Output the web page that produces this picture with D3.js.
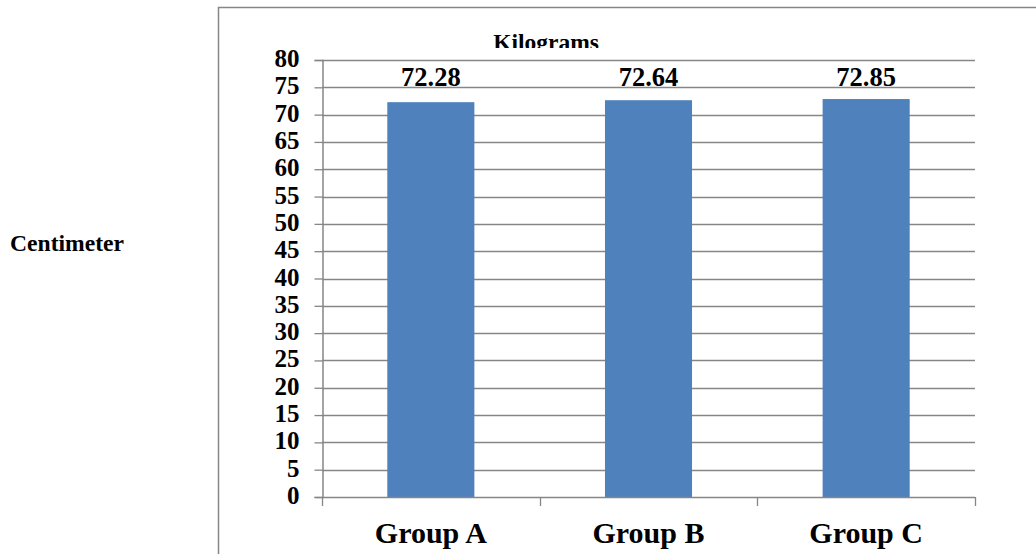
<!DOCTYPE html>
<html>
<head>
<meta charset="utf-8">
<script src="https://cdn.jsdelivr.net/npm/d3@7/dist/d3.min.js"></script>
<style>
  html, body { margin: 0; padding: 0; background: #fff; }
  svg { display: block; }
  text { font-family: "Liberation Serif", "Times New Roman", serif; font-weight: bold; fill: #000; }
</style>
</head>
<body>
<svg id="chart" width="1036" height="554"></svg>
<script>
// Mean weight per group
const categories = ["Group A", "Group B", "Group C"];
const values = [72.28, 72.64, 72.85];
const yTicks = d3.range(0, 81, 5);
const chartTitle = "Kilograms";
const sideLabel = "Centimeter";

const W = 1036, H = 554;
const plot = { left: 322, right: 975, top: 60, bottom: 497 };
const gridColor = "#868686";

const svg = d3.select("#chart");

// Outer chart frame (runs off the right and bottom edges)
svg.append("rect")
  .attr("x", 218.5).attr("y", 7.5)
  .attr("width", W).attr("height", H)
  .attr("fill", "#fff")
  .attr("stroke", gridColor).attr("stroke-width", 1.5);

const x = d3.scaleBand().domain(categories).range([plot.left, plot.right]).padding(0);
const y = d3.scaleLinear().domain([0, 80]).range([plot.bottom, plot.top]);

// Title, partly hidden under the plot area
svg.append("clipPath").attr("id", "titleClip")
  .append("rect").attr("x", 0).attr("y", 0).attr("width", W).attr("height", 48);
svg.append("text")
  .attr("clip-path", "url(#titleClip)")
  .attr("x", 546).attr("y", 50)
  .attr("text-anchor", "middle")
  .style("font-size", "23.5px")
  .text(chartTitle);

// Left-hand label
svg.append("text")
  .attr("x", 10).attr("y", 251)
  .style("font-size", "23.6px")
  .text(sideLabel);

// Horizontal gridlines
svg.append("g").selectAll("line")
  .data(yTicks.filter(d => d > 0))
  .join("line")
  .attr("x1", plot.left).attr("x2", plot.right)
  .attr("y1", d => Math.round(y(d)) + 0.5).attr("y2", d => Math.round(y(d)) + 0.5)
  .attr("stroke", gridColor).attr("stroke-width", 1.3);

// Y axis
const yAxis = svg.append("g")
  .attr("transform", `translate(${plot.left + 0.5},0)`)
  .call(d3.axisLeft(y).tickValues(yTicks).tickSize(8).tickPadding(15).tickFormat(d3.format("d")));
yAxis.select(".domain").attr("stroke", gridColor).attr("stroke-width", 1.5);
yAxis.selectAll(".tick line").attr("stroke", gridColor).attr("stroke-width", 1.3);
yAxis.selectAll(".tick text")
  .attr("dy", "0.26em")
  .style("font-family", "'Liberation Serif', 'Times New Roman', serif")
  .style("font-weight", "bold")
  .style("font-size", "25px")
  .attr("fill", "#000");

// Bars
const barW = x.bandwidth() * 0.4;
svg.append("g").selectAll("rect")
  .data(values)
  .join("rect")
  .attr("x", (d, i) => x(categories[i]) + (x.bandwidth() - barW) / 2)
  .attr("y", d => y(d))
  .attr("width", barW)
  .attr("height", d => y(0) - y(d))
  .attr("fill", "#4f81bd");

// X axis with ticks between categories
const xEdges = categories.map(c => x(c)).concat([plot.right]);
svg.append("line")
  .attr("x1", plot.left).attr("x2", plot.right)
  .attr("y1", plot.bottom + 0.5).attr("y2", plot.bottom + 0.5)
  .attr("stroke", gridColor).attr("stroke-width", 1.5);
svg.append("g").selectAll("line")
  .data(xEdges)
  .join("line")
  .attr("x1", d => Math.round(d) + 0.5).attr("x2", d => Math.round(d) + 0.5)
  .attr("y1", plot.bottom).attr("y2", plot.bottom + 9)
  .attr("stroke", gridColor).attr("stroke-width", 1.3);

// Category labels
svg.append("g").selectAll("text")
  .data(categories)
  .join("text")
  .attr("x", d => x(d) + x.bandwidth() / 2)
  .attr("y", 543)
  .attr("text-anchor", "middle")
  .style("font-size", "30px")
  .text(d => d);

// Value labels above bars
svg.append("g").selectAll("text")
  .data(values)
  .join("text")
  .attr("x", (d, i) => x(categories[i]) + x.bandwidth() / 2)
  .attr("y", 86)
  .attr("text-anchor", "middle")
  .style("font-size", "26.5px")
  .text(d => d.toFixed(2));
</script>
</body>
</html>
